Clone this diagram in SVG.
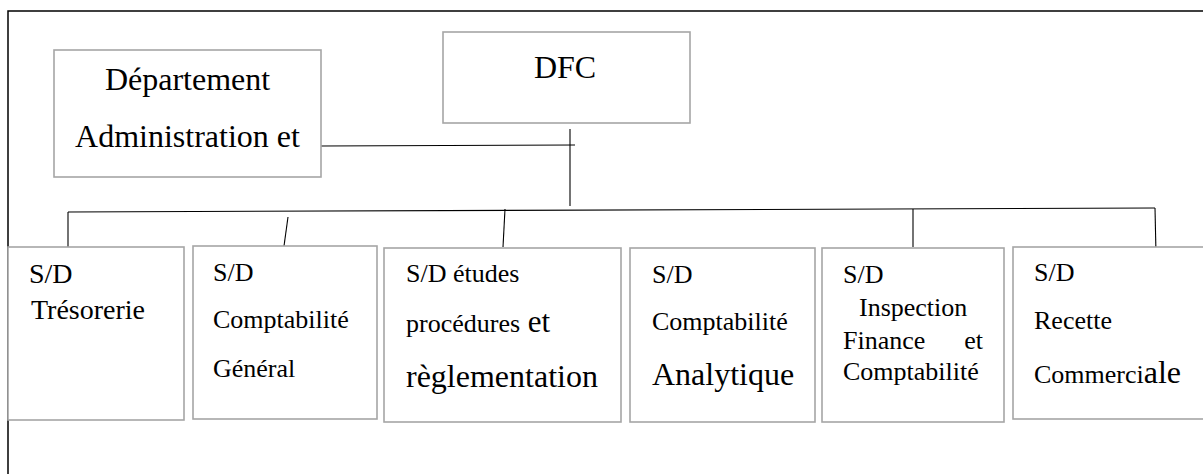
<svg xmlns="http://www.w3.org/2000/svg" width="1203" height="474" viewBox="0 0 1203 474">
  <style>
    .frame { fill: none; stroke: #000; stroke-width: 1.5; }
    .box { fill: #fff; stroke: #a6a6a6; stroke-width: 1.6; }
    .link { fill: none; stroke: #000; stroke-width: 1.1; }
    text { font-family: "Liberation Serif", "Times New Roman", serif; fill: #000; }
    .big { font-size: 32px; }
    .mid { font-size: 26px; }
  </style>

  <!-- page frame -->
  <path class="frame" d="M8,474 V11 H1204"/>

  <!-- connectors -->
  <g id="connectors">
    <line class="link" x1="321" y1="146" x2="575" y2="145"/>
    <line class="link" x1="570" y1="129" x2="570" y2="206"/>
    <line class="link" x1="68" y1="212" x2="1155" y2="208"/>
    <line class="link" x1="68" y1="212" x2="68" y2="254"/>
    <line class="link" x1="288" y1="217" x2="284" y2="246"/>
    <line class="link" x1="505" y1="209" x2="503" y2="247"/>
    <line class="link" x1="913" y1="209" x2="913" y2="247"/>
    <line class="link" x1="1155" y1="208" x2="1156" y2="254"/>
  </g>

  <g id="dept-admin">
    <rect class="box" x="54" y="50" width="267" height="127"/>
    <text class="big" x="187.5" y="90" text-anchor="middle">Département</text>
    <text class="big" x="187.5" y="147" text-anchor="middle">Administration et</text>
  </g>

  <g id="dfc">
    <rect class="box" x="443" y="32" width="247" height="91"/>
    <text class="big" x="565" y="78" text-anchor="middle">DFC</text>
  </g>

  <g id="sd-tresorerie">
    <rect class="box" x="8" y="247" width="176" height="173"/>
    <text x="29" y="283" font-size="28">S/D</text>
    <text x="31" y="319" font-size="28">Trésorerie</text>
  </g>

  <g id="sd-compta-generale">
    <rect class="box" x="193" y="246" width="184" height="173"/>
    <text class="mid" x="213" y="281">S/D</text>
    <text class="mid" x="213" y="328">Comptabilité</text>
    <text class="mid" x="213" y="377">Général</text>
  </g>

  <g id="sd-etudes">
    <rect class="box" x="384" y="248" width="237" height="174"/>
    <text class="mid" x="406" y="282">S/D études</text>
    <text x="406" y="332"><tspan class="mid">procédures</tspan><tspan font-size="31"> et</tspan></text>
    <text class="big" x="406" y="387">règlementation</text>
  </g>

  <g id="sd-compta-analytique">
    <rect class="box" x="630" y="248" width="185" height="174"/>
    <text class="mid" x="652" y="283">S/D</text>
    <text class="mid" x="652" y="330">Comptabilité</text>
    <text class="big" x="652" y="385">Analytique</text>
  </g>

  <g id="sd-inspection">
    <rect class="box" x="822" y="248" width="182" height="174"/>
    <text class="mid" x="843" y="283">S/D</text>
    <text class="mid" x="859" y="316">Inspection</text>
    <text class="mid" x="843" y="349">Finance</text>
    <text class="mid" x="983" y="349" text-anchor="end">et</text>
    <text class="mid" x="843" y="380">Comptabilité</text>
  </g>

  <g id="sd-recette">
    <rect class="box" x="1013" y="247" width="200" height="172"/>
    <text class="mid" x="1034" y="281">S/D</text>
    <text class="mid" x="1034" y="329">Recette</text>
    <text x="1034" y="383"><tspan class="mid">Commerci</tspan><tspan font-size="32">ale</tspan></text>
  </g>
</svg>
